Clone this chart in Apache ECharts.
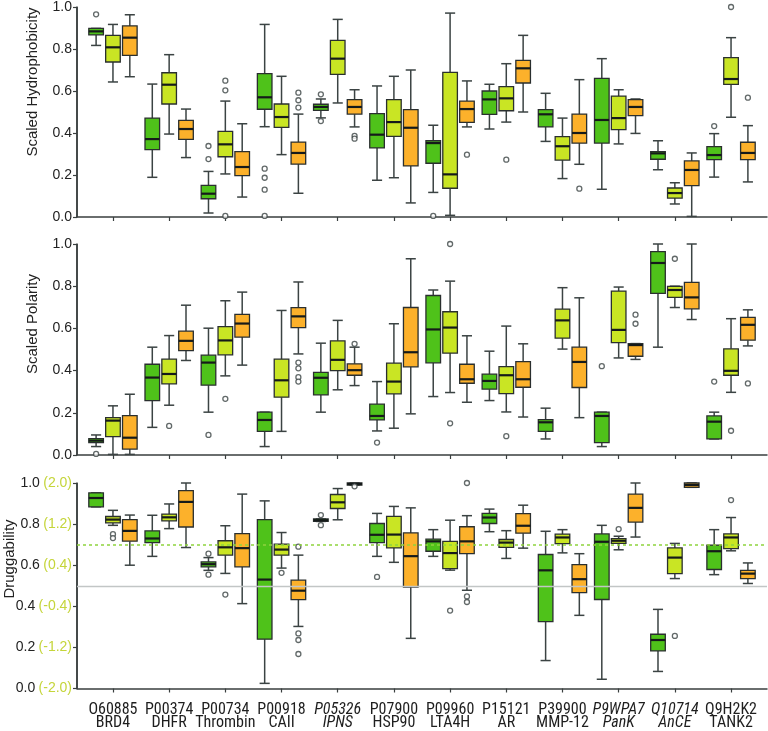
<!DOCTYPE html>
<html>
<head>
<meta charset="utf-8">
<script src="https://cdn.jsdelivr.net/npm/echarts@6/dist/echarts.min.js"></script>
<style>html,body{margin:0;padding:0;background:#fff}#c{width:768px;height:731px}</style>
</head>
<body>
<div id="c"></div>
<script>
// ---------- DATA ----------
const catIds = ['O60885','P00374','P00734','P00918','P05326','P07900','P09960','P15121','P39900','P9WPA7','Q10714','Q9H2K2'];
const catNames = ['BRD4','DHFR','Thrombin','CAII','IPNS','HSP90','LTA4H','AR','MMP-12','PanK','AnCE','TANK2'];
const catItalic = [false,false,false,false,true,false,false,false,false,true,true,false];
const yTicks = [0.0, 0.2, 0.4, 0.6, 0.8, 1.0];
const druggScaleLabels = ['(-2.0)','(-1.2)','(-0.4)','(0.4)','(1.2)','(2.0)'];
const panelTitles = ['Scaled Hydrophobicity','Scaled Polarity','Druggability'];
const druggRefLines = [0.7, 0.5];

// each row: [min, Q1, median, Q3, max]
const hydroGreen = [
  [0.817,0.867,0.884,0.898,0.898],[0.189,0.321,0.371,0.471,0.633],[0.019,0.087,0.111,0.151,0.217],
  [0.43,0.513,0.57,0.683,0.917],[0.472,0.508,0.524,0.537,0.562],[0.175,0.329,0.392,0.492,0.624],
  [0.117,0.256,0.352,0.363,0.437],[0.419,0.489,0.56,0.6,0.632],[0.36,0.429,0.489,0.511,0.589],
  [0.132,0.352,0.462,0.66,0.754],[0.225,0.275,0.303,0.311,0.363],[0.19,0.273,0.295,0.335,0.397]];
const hydroYellow = [
  [0.643,0.738,0.808,0.865,0.917],[0.395,0.538,0.63,0.687,0.773],[0.205,0.287,0.346,0.408,0.552],
  [0.297,0.427,0.476,0.538,0.67],[0.543,0.679,0.754,0.841,0.941],[0.187,0.384,0.452,0.559,0.67],
  [0.008,0.137,0.203,0.689,0.971],[0.452,0.506,0.565,0.621,0.73],[0.183,0.271,0.337,0.383,0.471],
  [0.348,0.416,0.471,0.576,0.606],[0.062,0.09,0.114,0.138,0.163],[0.475,0.632,0.657,0.759,0.854]];
const hydroOrange = [
  [0.668,0.77,0.854,0.91,0.963],[0.283,0.37,0.419,0.46,0.514],[0.095,0.197,0.238,0.311,0.444],
  [0.113,0.252,0.305,0.357,0.49],[0.429,0.49,0.524,0.559,0.606],[0.067,0.243,0.425,0.511,0.7],
  [0.429,0.451,0.514,0.552,0.648],[0.5,0.638,0.708,0.746,0.865],[0.251,0.352,0.4,0.49,0.654],
  [0.398,0.483,0.524,0.559,0.562],[0.003,0.149,0.224,0.267,0.305],[0.167,0.273,0.305,0.356,0.435]];
// outliers: [categoryIndex, value]
const hydroGreenOut = [[0,0.965],[2,0.338],[2,0.276],[3,0.23],[3,0.187],[3,0.13],[3,0.005],[4,0.584],[4,0.457],[6,0.005],[11,0.433]];
const hydroYellowOut = [[2,0.649],[2,0.603],[2,0.005],[7,0.273],[11,1.0]];
const hydroOrangeOut = [[3,0.592],[3,0.556],[3,0.521],[4,0.386],[4,0.373],[6,0.297],[8,0.135],[11,0.568]];

const polarGreen = [
  [0.04,0.059,0.068,0.078,0.095],[0.131,0.258,0.367,0.43,0.511],[0.203,0.331,0.438,0.473,0.601],
  [0.04,0.112,0.166,0.203,0.203],[0.203,0.285,0.366,0.392,0.53],[0.114,0.166,0.185,0.241,0.348],
  [0.277,0.437,0.595,0.756,0.782],[0.258,0.312,0.351,0.383,0.492],[0.076,0.112,0.155,0.168,0.222],
  [0.04,0.059,0.185,0.203,0.203],[0.511,0.766,0.91,0.964,1.0],[0.076,0.076,0.158,0.185,0.203]];
const polarYellow = [
  [0.003,0.087,0.163,0.177,0.233],[0.236,0.337,0.384,0.454,0.566],[0.375,0.475,0.543,0.608,0.731],
  [0.112,0.274,0.354,0.454,0.685],[0.309,0.4,0.451,0.541,0.638],[0.127,0.29,0.348,0.435,0.622],
  [0.296,0.483,0.604,0.679,0.824],[0.204,0.291,0.378,0.419,0.611],[0.502,0.554,0.638,0.691,0.793],
  [0.46,0.533,0.593,0.777,0.796],[0.699,0.747,0.782,0.799,0.8],[0.297,0.378,0.399,0.503,0.646]];
const polarOrange = [
  [0.003,0.028,0.082,0.187,0.288],[0.448,0.495,0.541,0.587,0.71],[0.426,0.559,0.623,0.666,0.772],
  [0.479,0.604,0.657,0.698,0.82],[0.329,0.378,0.402,0.432,0.511],[0.195,0.418,0.487,0.699,0.93],
  [0.25,0.34,0.359,0.43,0.565],[0.18,0.321,0.359,0.443,0.527],[0.177,0.32,0.441,0.511,0.745],
  [0.453,0.468,0.521,0.528,0.528],[0.642,0.693,0.747,0.818,1.0],[0.517,0.544,0.617,0.652,0.688]];
const polarGreenOut = [[0,0.005],[2,0.095],[5,0.059],[9,0.421],[11,0.348]];
const polarYellowOut = [[1,0.138],[2,0.266],[6,1.0],[6,0.15],[7,0.089],[10,0.93],[11,0.115]];
const polarOrangeOut = [[3,0.438],[3,0.411],[3,0.369],[3,0.348],[4,0.527],[9,0.665],[9,0.622],[11,0.339]];

const druggGreen = [
  [0.884,0.884,0.927,0.952,0.952],[0.643,0.71,0.73,0.767,0.843],[0.575,0.592,0.605,0.616,0.637],
  [0.025,0.24,0.53,0.822,0.913],[0.813,0.813,0.819,0.825,0.825],[0.643,0.71,0.748,0.803,0.852],
  [0.643,0.668,0.716,0.727,0.773],[0.763,0.803,0.832,0.852,0.873],[0.136,0.325,0.575,0.652,0.765],
  [0.045,0.433,0.714,0.752,0.794],[0.083,0.183,0.236,0.264,0.385],[0.554,0.579,0.668,0.698,0.773]];
const druggYellow = [
  [0.794,0.806,0.822,0.837,0.867],[0.778,0.816,0.833,0.849,0.898],[0.56,0.649,0.687,0.719,0.792],
  [0.586,0.649,0.676,0.703,0.759],[0.821,0.876,0.906,0.944,0.973],[0.614,0.684,0.749,0.838,0.886],
  [0.576,0.583,0.659,0.716,0.819],[0.633,0.687,0.71,0.725,0.768],[0.66,0.705,0.735,0.751,0.773],
  [0.675,0.706,0.719,0.729,0.741],[0.535,0.559,0.637,0.684,0.706],[0.67,0.681,0.735,0.752,0.832]];
const druggOrange = [
  [0.6,0.717,0.767,0.822,0.844],[0.686,0.786,0.908,0.963,1.0],[0.413,0.592,0.683,0.754,0.946],
  [0.302,0.432,0.476,0.527,0.649],[0.99,0.99,0.995,1.0,1.0],[0.244,0.494,0.644,0.757,0.879],
  [0.478,0.656,0.716,0.787,0.841],[0.683,0.756,0.792,0.851,0.892],[0.356,0.467,0.532,0.603,0.656],
  [0.737,0.81,0.879,0.946,1.0],[0.979,0.979,0.99,1.0,1.0],[0.511,0.535,0.559,0.575,0.611]];
const druggGreenOut = [[2,0.656],[2,0.554],[4,0.844],[4,0.795],[5,0.543]];
const druggYellowOut = [[0,0.751],[0,0.732],[2,0.457],[3,0.563],[6,0.379],[9,0.776],[10,0.256],[11,0.917]];
const druggOrangeOut = [[3,0.69],[3,0.268],[3,0.236],[3,0.168],[4,0.984],[6,1.0],[6,0.448],[6,0.421]];

// ---------- STYLE ----------
const FONT = 'Liberation Sans, Arial, sans-serif';
const COND = 'Roboto Condensed, Liberation Sans, sans-serif';
const COLORS = ['#4fc21a', '#c9e524', '#fcb12b'];
const OFFSETS = [-0.3, 0, 0.3];
const BOX_W = 0.26, CAP_W = 0.18;
const X_MIN = -0.64, X_MAX = 11.64;
const AXIS_COLOR = '#3a3f3f';

const panels = [
  {boxes:[hydroGreen,hydroYellow,hydroOrange], outs:[hydroGreenOut,hydroYellowOut,hydroOrangeOut], top:7, height:210},
  {boxes:[polarGreen,polarYellow,polarOrange], outs:[polarGreenOut,polarYellowOut,polarOrangeOut], top:244, height:211},
  {boxes:[druggGreen,druggYellow,druggOrange], outs:[druggGreenOut,druggYellowOut,druggOrangeOut], top:483, height:210}
];
const catIdx = catIds.map((_, i) => i);

const grids = [], xAxes = [], yAxes = [], series = [];
panels.forEach((p, pi) => {
  grids.push({left: 77, right: 1, top: p.top, height: p.height});
  const last = pi === 2;
  xAxes.push({
    type: 'value', gridIndex: pi, min: X_MIN, max: X_MAX,
    splitLine: {show: false},
    axisLine: {show: true, onZero: false, lineStyle: {color: AXIS_COLOR, width: 1.5}},
    axisTick: {show: true, customValues: catIdx, length: 4, lineStyle: {color: AXIS_COLOR, width: 1.2}},
    axisLabel: last ? {
      show: true, customValues: catIdx, margin: 15, hideOverlap: false,
      formatter: v => { const i = Math.round(v); const s = catItalic[i] ? 'i' : 'n'; return '{' + s + '|' + catIds[i] + '}\n{' + s + '|' + catNames[i] + '}'; },
      rich: {
        n: {fontFamily: COND, fontSize: 16, lineHeight: 13, color: '#1e1e1e'},
        i: {fontFamily: COND, fontSize: 16, lineHeight: 13, color: '#1e1e1e', fontStyle: 'italic'}
      }
    } : {show: false}
  });
  yAxes.push({
    type: 'value', gridIndex: pi, min: 0, max: 1, interval: 0.2,
    splitLine: {show: false},
    axisLine: {show: true, onZero: false, lineStyle: {color: AXIS_COLOR, width: 1.5}},
    axisTick: {show: true, length: 4, lineStyle: {color: AXIS_COLOR, width: 1.2}},
    axisLabel: last ? {
      margin: 5,
      formatter: v => { const k = yTicks.findIndex(t => Math.abs(t - v) < 1e-6); return '{a|' + v.toFixed(1) + '} {b|' + druggScaleLabels[k] + '}'; },
      rich: {a: {fontFamily: FONT, fontSize: 14, color: '#222'}, b: {fontFamily: FONT, fontSize: 14, color: '#c5d53a'}}
    } : {margin: 5, fontFamily: FONT, fontSize: 14, color: '#222', formatter: v => v.toFixed(1)}
  });
  p.boxes.forEach((rows, si) => {
    series.push({
      type: 'custom', xAxisIndex: pi, yAxisIndex: pi, z: 3,
      data: rows.map((r, i) => [i].concat(r)),
      encode: {x: 0, y: [1, 2, 3, 4, 5]},
      renderItem: (params, api) => {
        const x = api.value(0) + OFFSETS[si];
        const pMin = api.coord([x, api.value(1)]);
        const pQ1 = api.coord([x, api.value(2)]);
        const pMed = api.coord([x, api.value(3)]);
        const pQ3 = api.coord([x, api.value(4)]);
        const pMax = api.coord([x, api.value(5)]);
        const hw = api.size([BOX_W, 0])[0] / 2;
        const cw = api.size([CAP_W, 0])[0] / 2;
        const cx = pMed[0];
        const ws = () => ({stroke: '#3b4343', lineWidth: 1.5});
        return {type: 'group', children: [
          {type: 'line', shape: {x1: cx, y1: pMax[1], x2: cx, y2: pQ3[1]}, style: ws()},
          {type: 'line', shape: {x1: cx, y1: pQ1[1], x2: cx, y2: pMin[1]}, style: ws()},
          {type: 'line', shape: {x1: cx - cw, y1: pMax[1], x2: cx + cw, y2: pMax[1]}, style: ws()},
          {type: 'line', shape: {x1: cx - cw, y1: pMin[1], x2: cx + cw, y2: pMin[1]}, style: ws()},
          {type: 'rect', shape: {x: cx - hw, y: pQ3[1], width: 2 * hw, height: pQ1[1] - pQ3[1]},
            style: {fill: COLORS[si], stroke: '#2a2f2f', lineWidth: 1.3}},
          {type: 'line', shape: {x1: cx - hw, y1: pMed[1], x2: cx + hw, y2: pMed[1]}, style: {stroke: '#151a1a', lineWidth: 2.2}}
        ]};
      }
    });
  });
  p.outs.forEach((pts, si) => {
    series.push({
      type: 'scatter', xAxisIndex: pi, yAxisIndex: pi, z: 4,
      symbol: 'circle', symbolSize: 5,
      itemStyle: {color: '#fff', borderColor: '#3b4343', borderWidth: 1.3},
      data: pts.map(o => [o[0] + OFFSETS[si], o[1]]),
      silent: true
    });
  });
  // left axis line (drawn again at the axis minimum so it is always visible)
  series.push({
    type: 'line', xAxisIndex: pi, yAxisIndex: pi, z: 6, data: [], silent: true,
    markLine: {silent: true, symbol: 'none', label: {show: false}, animation: false,
      data: [{xAxis: X_MIN, lineStyle: {color: AXIS_COLOR, type: 'solid', width: 1.5}}]}
  });
});
// reference lines in druggability panel
series.push({
  type: 'line', xAxisIndex: 2, yAxisIndex: 2, z: 1, data: [], silent: true,
  markLine: {
    silent: true, symbol: 'none', label: {show: false}, animation: false,
    data: [
      {yAxis: druggRefLines[0], lineStyle: {color: '#8fd43e', type: [3, 3], width: 1.5}},
      {yAxis: druggRefLines[1], lineStyle: {color: '#c2c6c6', type: 'solid', width: 1.3}}
    ]
  }
});

const titlePos = [[33, 82], [33, 324], [10, 559]];
const graphic = panelTitles.map((t, i) => ({
  type: 'text', x: titlePos[i][0], y: titlePos[i][1], rotation: Math.PI / 2,
  style: {text: t, fill: '#222', fontFamily: FONT, fontSize: 15, align: 'center', verticalAlign: 'middle'}
}));

const chart = echarts.init(document.getElementById('c'), null, {renderer: 'canvas'});
chart.setOption({
  animation: false,
  grid: grids, xAxis: xAxes, yAxis: yAxes, series: series, graphic: graphic
});
</script>
</body>
</html>
